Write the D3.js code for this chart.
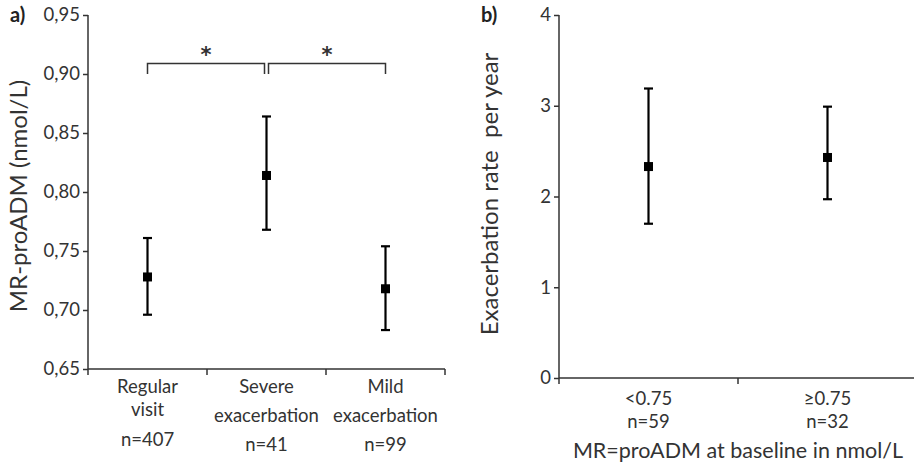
<!DOCTYPE html>
<html>
<head>
<meta charset="utf-8">
<script src="https://cdn.jsdelivr.net/npm/d3@7"></script>
<style>
  body { margin: 0; background: #fff; }
  svg { font-family: Lato, "Open Sans", sans-serif; }
  .axis path, .axis line { stroke: #333; stroke-width: 1.5px; }
  .axis text { fill: #333; font-size: 18.5px; font-family: Lato, "Open Sans", sans-serif; }
  .lbl { fill: #333; font-size: 18.5px; }
  .title { fill: #333; font-size: 24px; }
  .star { fill: #333; font-size: 21px; font-weight: bold; font-family: "DejaVu Sans", sans-serif; }
</style>
</head>
<body>
<svg id="chart" width="914" height="465"></svg>
<script>
// panel a: MR-proADM by visit type
const catsA = ["Regular visit", "Severe exacerbation", "Mild exacerbation"];
const labelsA = [["Regular", "visit", "n=407"], ["Severe", "exacerbation", "n=41"], ["Mild", "exacerbation", "n=99"]];
const meanA = [0.728, 0.814, 0.718];
const lowA = [0.696, 0.768, 0.683];
const highA = [0.761, 0.864, 0.754];
const ticksA = [0.65, 0.70, 0.75, 0.80, 0.85, 0.90, 0.95];
const bracketsA = [[0, 1], [1, 2]];

// panel b: exacerbation rate by baseline MR-proADM
const catsB = ["<0.75", "≥0.75"];
const labelsB = [["<0.75", "n=59"], ["≥0.75", "n=32"]];
const meanB = [2.33, 2.43];
const lowB = [1.70, 1.97];
const highB = [3.19, 2.99];
const ticksB = [0, 1, 2, 3, 4];

const svg = d3.select('#chart');

// draws error bars with square markers
function drawErrors(g, x, y, cats, mean, low, high) {
    const c = x.bandwidth() / 2;
    g.selectAll('.err').data(cats).enter().append('line')
        .attr('x1', d => x(d) + c).attr('x2', d => x(d) + c)
        .attr('y1', (d, i) => y(low[i])).attr('y2', (d, i) => y(high[i]))
        .attr('stroke', '#000').attr('stroke-width', 2.2);
    [low, high].forEach(arr => {
        g.selectAll(null).data(cats).enter().append('line')
            .attr('x1', d => x(d) + c - 4.5).attr('x2', d => x(d) + c + 4.5)
            .attr('y1', (d, i) => y(arr[i])).attr('y2', (d, i) => y(arr[i]))
            .attr('stroke', '#000').attr('stroke-width', 2.2);
    });
    g.selectAll('.pt').data(cats).enter().append('rect')
        .attr('x', d => x(d) + c - 4.5)
        .attr('y', (d, i) => y(mean[i]) - 4.5)
        .attr('width', 9).attr('height', 9)
        .attr('fill', '#000');
}

// ---- panel a
(function () {
    const left = 88, right = 445, top = 15, bottom = 369;
    const x = d3.scaleBand().domain(catsA).range([left, right]);
    const y = d3.scaleLinear().domain([0.65, 0.95]).range([bottom, top]);
    const g = svg.append('g');

    const yAx = g.append('g').attr('class', 'axis')
        .attr('transform', `translate(${left},0)`)
        .call(d3.axisLeft(y).tickValues(ticksA).tickSize(5).tickPadding(3)
            .tickFormat(d => d3.format('.2f')(d).replace('.', ',')));
    yAx.select('.domain').attr('d', `M0,${top}V${bottom}`);

    const xAx = g.append('g').attr('class', 'axis')
        .attr('transform', `translate(0,${bottom})`)
        .call(d3.axisBottom(x).tickSize(0).tickFormat(''));
    xAx.select('.domain').attr('d', `M${left},0H${right}`);
    xAx.selectAll('.tick').remove();
    const edges = catsA.map(d => x(d)).concat([right]);
    xAx.selectAll('.edge').data(edges).enter().append('line')
        .attr('x1', d => d).attr('x2', d => d).attr('y1', 0).attr('y2', 6);

    const c = x.bandwidth() / 2;
    labelsA.forEach((lines, i) => {
        const cx = x(catsA[i]) + c;
        const ys = i === 0 ? [393, 416, 446] : [393, 422, 451];
        lines.forEach((t, j) => {
            g.append('text').attr('class', 'lbl')
                .attr('x', cx).attr('y', ys[j])
                .attr('text-anchor', 'middle').text(t);
        });
    });

    // significance brackets
    const yTop = y(0.909), yEnd = y(0.90);
    bracketsA.forEach(([a, b], k) => {
        const x1 = x(catsA[a]) + c + (k === 1 ? 2 : 0);
        const x2 = x(catsA[b]) + c - (k === 0 ? 2 : 0);
        g.append('path')
            .attr('d', `M${x1},${yEnd}V${yTop}H${x2}V${yEnd}`)
            .attr('fill', 'none').attr('stroke', '#333').attr('stroke-width', 1.5);
        g.append('text').attr('class', 'star')
            .attr('x', (x1 + x2) / 2).attr('y', yTop - 1)
            .attr('text-anchor', 'middle').text('*');
    });

    drawErrors(g, x, y, catsA, meanA, lowA, highA);

    g.append('text').attr('class', 'title')
        .attr('transform', `translate(27,${(top + bottom) / 2 + 4}) rotate(-90)`)
        .attr('text-anchor', 'middle').text('MR-proADM (nmol/L)');
    g.append('text').attr('x', 10).attr('y', 22)
        .style('font-size', '20px').style('font-weight', 'bold').attr('fill', '#222')
        .text('a)');
})();

// ---- panel b
(function () {
    const left = 559, top = 15, bottom = 378, bw = 179;
    const right = left + bw * catsB.length;
    const x = d3.scaleBand().domain(catsB).range([left, right]);
    const y = d3.scaleLinear().domain([0, 4]).range([bottom, top]);
    const g = svg.append('g');

    const yAx = g.append('g').attr('class', 'axis')
        .attr('transform', `translate(${left},0)`)
        .call(d3.axisLeft(y).tickValues(ticksB).tickSize(5).tickPadding(3).tickFormat(d3.format('d')));
    yAx.select('.domain').attr('d', `M0,${top}V${bottom + 6}`);

    const xAx = g.append('g').attr('class', 'axis')
        .attr('transform', `translate(0,${bottom})`)
        .call(d3.axisBottom(x).tickSize(0).tickFormat(''));
    xAx.select('.domain').attr('d', `M${left},0H${right}`);
    xAx.selectAll('.tick').remove();
    xAx.append('line').attr('x1', x(catsB[1])).attr('x2', x(catsB[1])).attr('y1', 0).attr('y2', 6);

    const c = x.bandwidth() / 2;
    labelsB.forEach((lines, i) => {
        const cx = x(catsB[i]) + c;
        lines.forEach((t, j) => {
            g.append('text').attr('class', 'lbl')
                .attr('x', cx).attr('y', 405 + j * 23)
                .attr('text-anchor', 'middle').text(t);
        });
    });
    g.append('text').attr('class', 'lbl')
        .attr('x', left + bw).attr('y', 458)
        .attr('text-anchor', 'middle').style('font-size', '21.5px')
        .text('MR=proADM at baseline in nmol/L');

    drawErrors(g, x, y, catsB, meanB, lowB, highB);

    g.append('text').attr('class', 'title')
        .attr('transform', `translate(498,${194}) rotate(-90)`)
        .attr('text-anchor', 'middle')
        .style('white-space', 'pre')
        .text('Exacerbation rate  per year');
    g.append('text').attr('x', 481).attr('y', 22)
        .style('font-size', '20px').style('font-weight', 'bold').attr('fill', '#222')
        .text('b)');
})();
</script>
</body>
</html>
